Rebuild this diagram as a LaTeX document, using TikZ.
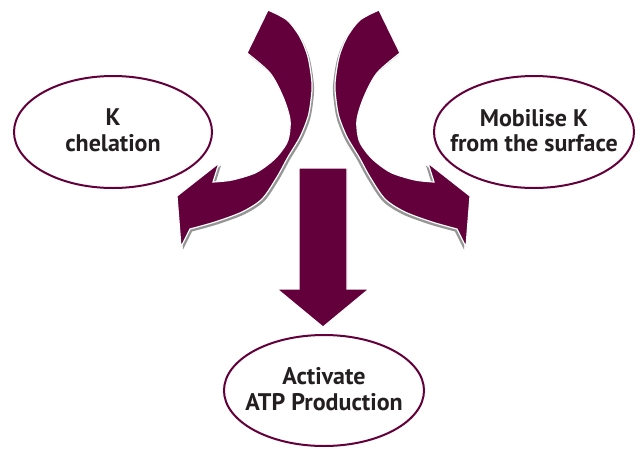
\documentclass[tikz,border=0pt]{standalone}
\usepackage{fontspec}
\setmainfont{PT Sans}
\usetikzlibrary{shapes.geometric}
\definecolor{maroon}{RGB}{99,0,59}
\definecolor{shad}{RGB}{150,150,150}
\definecolor{txt}{RGB}{35,31,32}
\newcommand{\curvearrowpath}{(268,10) -- plot[smooth] coordinates {(247,53) (270,73) (283,97) (290,120) (288,140) (280,153) (270,163) (255,173) (232,180) (213,182)} -- (219,163) -- (177,196) -- (181,247) -- plot[smooth] coordinates {(190,229) (215,222) (242,212) (262,199) (277,177) (288,157) (300,137) (308,117) (311,100) (312,83) (308,57) (300,37) (287,20) (268,10)} -- cycle}
\begin{document}
\begin{tikzpicture}[x=1pt,y=-1pt,
  bubble/.style={draw=maroon, line width=2pt, fill=white, ellipse, minimum width=198pt, minimum height=112pt, inner sep=0pt},
  lbl/.style={font=\bfseries\fontsize{24}{25.5}\selectfont, text=txt, align=center},
  arrowbody/.style={fill=maroon, draw=white, line width=1.2pt, line join=miter},
  arrowshadow/.style={fill=shad}
]
\useasboundingbox[fill=white] (0,0) rectangle (641,448);
% bubbles
\node[bubble] (lb) at (113,132) {};
\node[bubble, minimum width=200pt] (rb) at (534,132) {};
\node[bubble, minimum width=200pt, minimum height=111pt] (bb) at (324,390.5) {};
\node[lbl] (lt) at (113,130.5) {K\\chelation};
\node[lbl] (rt) at (534,130.5) {Mobilise K\\from the surface};
\node[lbl] (bt) at (324,389) {Activate\\ATP Production};
% left curved arrow
\fill[arrowshadow, shift={(2,2.5)}] \curvearrowpath;
\filldraw[arrowbody] \curvearrowpath;
% right curved arrow (mirror)
\begin{scope}[xshift=647pt, xscale=-1]
\fill[arrowshadow, shift={(2,2.5)}] \curvearrowpath;
\filldraw[arrowbody] \curvearrowpath;
\end{scope}
% down arrow
\coordinate (d1) at (299,168);
\coordinate (d2) at (347,168);
\coordinate (d3) at (347,289);
\coordinate (d4) at (369,289);
\coordinate (d5) at (323,327);
\coordinate (d6) at (277,289);
\coordinate (d7) at (299,289);
\fill[arrowshadow, shift={(2,3)}] (d1) -- (d2) -- (d3) -- (d4) -- (d5) -- (d6) -- (d7) -- cycle;
\filldraw[arrowbody] (d1) -- (d2) -- (d3) -- (d4) -- (d5) -- (d6) -- (d7) -- cycle;
\end{tikzpicture}
\end{document}
